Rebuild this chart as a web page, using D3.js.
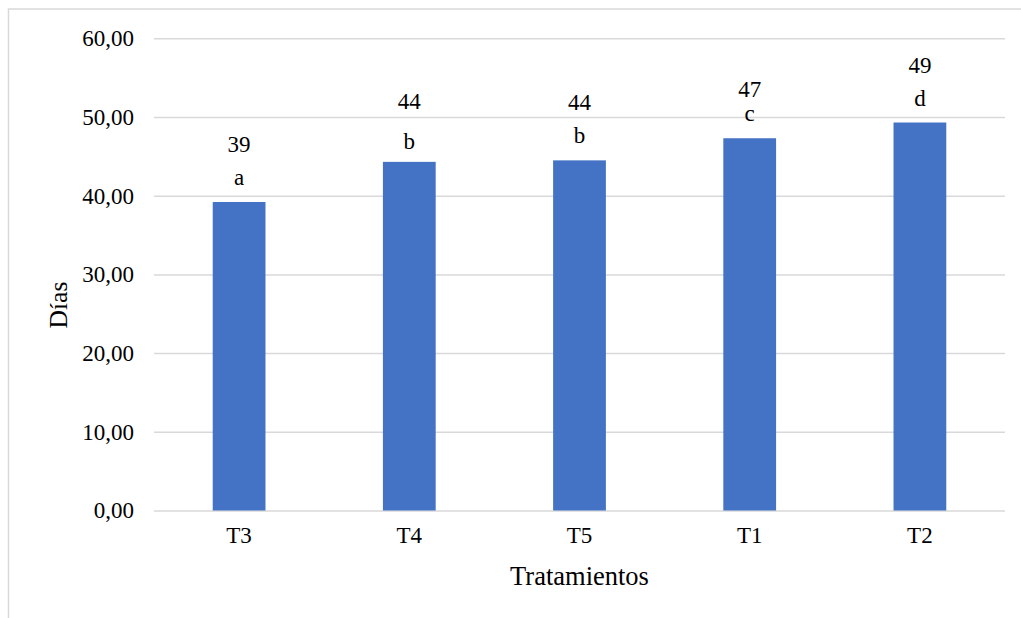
<!DOCTYPE html>
<html>
<head>
<meta charset="utf-8">
<script src="https://cdn.jsdelivr.net/npm/d3@7"></script>
<style>
  html, body { margin: 0; padding: 0; background: #fff; }
  svg { display: block; }
</style>
</head>
<body>
<svg id="chart" width="1021" height="618"></svg>
<script>
// Days per treatment, ordered from shortest to longest
const treatments = ["T3", "T4", "T5", "T1", "T2"];
const days = [39.2, 44.3, 44.49, 47.3, 49.3];
// Significance groups
const groups = ["a", "b", "b", "c", "d"];
const yTicks = [0, 10, 20, 30, 40, 50, 60];

const SERIF = "'Liberation Serif', 'Times New Roman', Times, serif";

const svg = d3.select("#chart");
const W = 1021, H = 618;
const plot = { left: 154, right: 1005, top: 38.3, bottom: 510.5 };

// Label placement above bar tops (pixels); a few labels sit slightly off the default
const labelGap = { value: 50, group: 17 };
const labelNudge = {
  T4: { value: 3, group: -4 },
  T1: { value: -9, group: 0 }
};

// Outer chart frame
svg.append("rect")
  .attr("x", 8.5).attr("y", 9)
  .attr("width", W + 20).attr("height", H + 20)
  .attr("fill", "none")
  .attr("stroke", "#d9d9d9")
  .attr("stroke-width", 1.5);

const x = d3.scaleBand()
  .domain(treatments)
  .range([plot.left, plot.right])
  .paddingInner(0.69)
  .paddingOuter(0.345);

const y = d3.scaleLinear()
  .domain([0, 60])
  .range([plot.bottom, plot.top]);

const comma = d3.formatLocale({ decimal: ",", thousands: ".", grouping: [3], currency: ["", ""] });
const fmtTick = comma.format(".2f");

// Horizontal gridlines with value labels
const yAxis = d3.axisLeft(y)
  .tickValues(yTicks)
  .tickSize(-(plot.right - plot.left))
  .tickPadding(20)
  .tickFormat(fmtTick);

const gy = svg.append("g")
  .attr("transform", `translate(${plot.left},0)`)
  .call(yAxis)
  .attr("font-family", SERIF)
  .attr("font-size", 23);
gy.select(".domain").remove();
gy.selectAll(".tick line")
  .attr("stroke", "#d9d9d9")
  .attr("stroke-width", 1.5);
gy.selectAll(".tick text")
  .style("font-family", SERIF)
  .attr("fill", "#000");

// Category axis
const xAxis = d3.axisBottom(x).tickSize(0).tickPadding(16);
const gx = svg.append("g")
  .attr("transform", `translate(0,${plot.bottom})`)
  .call(xAxis)
  .attr("font-family", SERIF)
  .attr("font-size", 23);
gx.select(".domain").remove();
gx.selectAll(".tick text")
  .style("font-family", SERIF)
  .attr("fill", "#000");

// Bars
svg.append("g")
  .selectAll("rect")
  .data(treatments)
  .join("rect")
  .attr("x", d => x(d))
  .attr("y", (d, i) => y(days[i]))
  .attr("width", x.bandwidth())
  .attr("height", (d, i) => y(0) - y(days[i]))
  .attr("fill", "#4472C4");

// Value and group labels above each bar
const nudge = (d, k) => (labelNudge[d] ? labelNudge[d][k] : 0);
const labels = svg.append("g")
  .attr("text-anchor", "middle")
  .attr("font-family", SERIF)
  .attr("font-size", 23)
  .attr("fill", "#000");
labels.selectAll("text.val")
  .data(treatments)
  .join("text")
  .attr("class", "val")
  .style("font-family", SERIF)
  .attr("x", d => x(d) + x.bandwidth() / 2)
  .attr("y", (d, i) => y(days[i]) - labelGap.value - nudge(d, "value"))
  .text((d, i) => d3.format(".0f")(days[i]));
labels.selectAll("text.grp")
  .data(treatments)
  .join("text")
  .attr("class", "grp")
  .style("font-family", SERIF)
  .attr("x", d => x(d) + x.bandwidth() / 2)
  .attr("y", (d, i) => y(days[i]) - labelGap.group - nudge(d, "group"))
  .text((d, i) => groups[i]);

// Axis titles
svg.append("text")
  .attr("x", (plot.left + plot.right) / 2)
  .attr("y", 585)
  .attr("text-anchor", "middle")
  .style("font-family", SERIF)
  .attr("font-size", 26.5)
  .text("Tratamientos");

svg.append("text")
  .attr("transform", "translate(67,305) rotate(-90)")
  .attr("text-anchor", "middle")
  .style("font-family", SERIF)
  .attr("font-size", 25.5)
  .text("Días");
</script>
</body>
</html>
